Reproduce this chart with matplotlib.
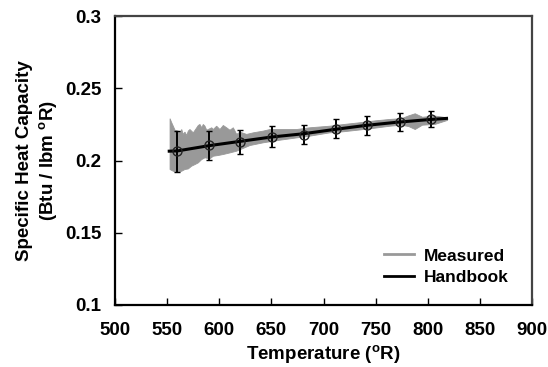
import numpy as np
import matplotlib
matplotlib.use("Agg")
import matplotlib.pyplot as plt
from matplotlib.lines import Line2D

plt.rcParams["font.family"] = ["Liberation Sans", "DejaVu Sans"]
plt.rcParams["font.weight"] = "bold"
plt.rcParams["mathtext.fontset"] = "custom"
plt.rcParams["mathtext.rm"] = "Liberation Sans:bold"
plt.rcParams["mathtext.it"] = "Liberation Sans:bold"
plt.rcParams["mathtext.bf"] = "Liberation Sans:bold"

# Measured specific heat: upper and lower edges of the scatter band
meas_top_T = [552.8, 554.4, 555.9, 557.6, 560.7, 562.4, 564.0, 565.5, 567.1, 568.8,
              570.3, 571.9, 575.1, 578.4, 579.9, 581.5, 583.2, 584.7, 586.3, 588.0,
              592.8, 594.3, 597.5, 600.7, 603.9, 607.1, 610.3, 613.5, 616.7, 619.9,
              626.3, 632.7, 642.3, 648.7, 658.3, 674.3, 687.0, 706.2, 720.0, 735.0,
              750.0, 764.0, 775.0, 782.0, 788.0, 795.0, 807.0, 819.0]
meas_top_cp = [0.2290, 0.2262, 0.2238, 0.2210, 0.2204, 0.2192, 0.2215, 0.2181, 0.2197, 0.2174,
               0.2204, 0.2215, 0.2192, 0.2227, 0.2243, 0.2250, 0.2227, 0.2250, 0.2238, 0.2210,
               0.2227, 0.2215, 0.2238, 0.2215, 0.2243, 0.2227, 0.2210, 0.2227, 0.2181, 0.2197,
               0.2181, 0.2192, 0.2204, 0.2215, 0.2215, 0.2215, 0.2227, 0.2238, 0.2250, 0.2262,
               0.2275, 0.2285, 0.2290, 0.2310, 0.2324, 0.2300, 0.2308, 0.2296]
meas_bot_T = [552.8, 555.9, 560.7, 564.0, 567.1, 570.3, 573.5, 576.7, 579.9, 583.2,
              586.3, 591.1, 594.3, 599.1, 603.9, 610.3, 616.7, 629.5, 642.3, 658.3,
              674.3, 687.0, 706.2, 720.0, 735.0, 750.0, 764.0, 775.0, 782.0, 788.0,
              795.0, 807.0, 819.0]
meas_bot_cp = [0.1938, 0.1926, 0.1919, 0.1926, 0.1938, 0.1942, 0.1961, 0.1972, 0.1984, 0.2007,
               0.2019, 0.2012, 0.2030, 0.2035, 0.2042, 0.2053, 0.2065, 0.2104, 0.2123, 0.2141,
               0.2157, 0.2169, 0.2192, 0.2200, 0.2212, 0.2225, 0.2238, 0.2245, 0.2235, 0.2215,
               0.2245, 0.2250, 0.2278]

# Handbook curve
hb_T = [552, 560, 590, 620, 650, 680, 710, 740, 770, 800, 818]
hb_cp = [0.2065, 0.2067, 0.2103, 0.2133, 0.2163, 0.2185, 0.2215, 0.2243, 0.2265, 0.2283, 0.2292]

# Binned measurements with uncertainty
pt_T = [559, 590, 620, 651, 681, 712, 742, 773, 803]
pt_cp = [0.2065, 0.2106, 0.2130, 0.2165, 0.2180, 0.2220, 0.2243, 0.2266, 0.2285]
pt_err = [0.0142, 0.0102, 0.0082, 0.0072, 0.0063, 0.0065, 0.0063, 0.0060, 0.0055]

x_ticks = [500, 550, 600, 650, 700, 750, 800, 850, 900]
y_ticks = [0.1, 0.15, 0.2, 0.25, 0.3]
y_tick_labels = ["0.1", "0.15", "0.2", "0.25", "0.3"]

fig = plt.figure(figsize=(5.48, 3.67), dpi=100)
ax = fig.add_axes([0.2099, 0.169, 0.7609, 0.787])

poly_T = np.concatenate([meas_top_T, meas_bot_T[::-1]])
poly_cp = np.concatenate([meas_top_cp, meas_bot_cp[::-1]])
ax.fill(poly_T, poly_cp, color="#999999", lw=0.6, ec="#999999", zorder=1)

ax.plot(hb_T, hb_cp, color="black", lw=2.2, zorder=2)

ax.errorbar(pt_T, pt_cp, yerr=pt_err, fmt="o", ms=6.5, mfc="none", mec="#222222",
            mew=1.0, ecolor="black", elinewidth=1.4, capsize=2.5, capthick=1.4, zorder=3)

ax.set_xlim(500, 900)
ax.set_ylim(0.1, 0.3)
ax.set_xticks(x_ticks)
ax.set_yticks(y_ticks)
ax.set_yticklabels(y_tick_labels)
ax.tick_params(axis="both", direction="in", length=5, width=1, labelsize=13.5,
               top=False, right=False)
ax.tick_params(axis="x", pad=12)
ax.tick_params(axis="y", pad=10)

for side in ("left", "bottom"):
    ax.spines[side].set_linewidth(1.6)
    ax.spines[side].set_color("black")
for side in ("top", "right"):
    ax.spines[side].set_linewidth(1.6)
    ax.spines[side].set_color("#444444")

ax.set_xlabel("Temperature ($^{\\mathrm{o}}$R)", fontsize=13.5, fontweight="bold", labelpad=3)
ax.set_ylabel("Specific Heat Capacity\n(Btu / lbm $^{\\mathrm{o}}$R)", fontsize=13.5,
              fontweight="bold", labelpad=4, linespacing=1.25)

handles = [Line2D([], [], color="#999999", lw=2),
           Line2D([], [], color="black", lw=2)]
ax.legend(handles, ["Measured", "Handbook"], loc="lower right",
          bbox_to_anchor=(0.982, 0.016), frameon=False,
          handlelength=1.7, handletextpad=0.6, labelspacing=0.35,
          prop={"weight": "bold", "size": 12.5})

fig.savefig("out.png", dpi=100)
